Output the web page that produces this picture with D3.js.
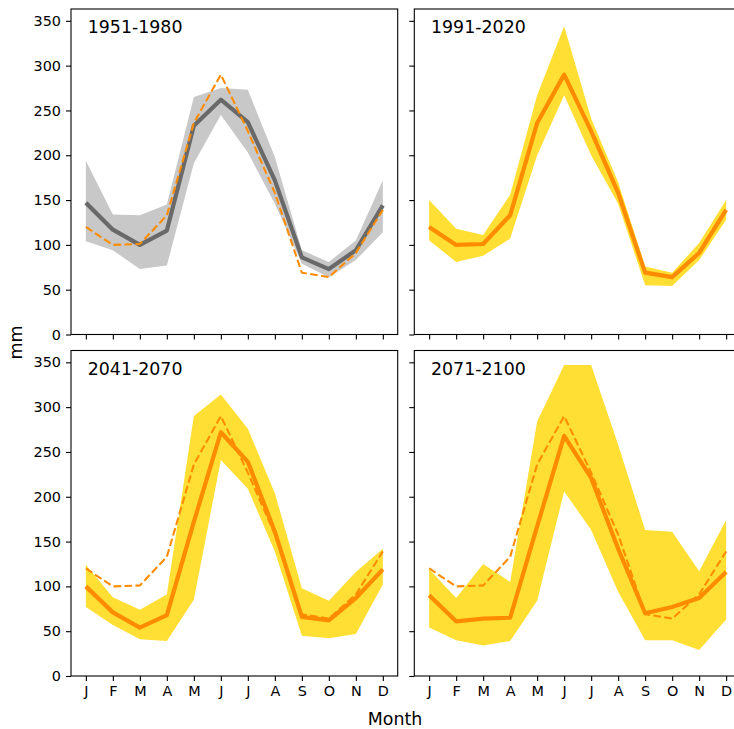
<!DOCTYPE html>
<html>
<head>
<meta charset="utf-8">
<script src="https://cdn.jsdelivr.net/npm/d3@7"></script>
<style>
  body { margin: 0; background: #fff; }
  svg { display: block; font-family: "DejaVu Sans", sans-serif; }
</style>
</head>
<body>
<div id="chart"></div>
<script>
// months on the x axis
const months = ["J", "F", "M", "A", "M", "J", "J", "A", "S", "O", "N", "D"];
const periods = ["1951-1980", "1991-2020", "2041-2070", "2071-2100"];
const yTicks = [0, 50, 100, 150, 200, 250, 300, 350];

// 1951-1980 (gray)
const mean1951 = [147, 117, 100, 116, 233, 262, 237, 172, 86, 73, 94, 144];
const high1951 = [194, 134, 133, 145, 265, 275, 273, 198, 94, 81, 105, 172];
const low1951  = [104, 94, 73, 77, 191, 245, 203, 146, 79, 64, 83, 114];

// 1991-2020 (also the dashed reference line)
const mean1991 = [120, 100, 101, 133, 236, 290, 227, 158, 69, 64, 91, 139];
const high1991 = [150, 118, 111, 156, 267, 344, 241, 170, 76, 69, 102, 150];
const low1991  = [105, 81, 88, 107, 200, 267, 200, 146, 55, 54, 83, 128];

// 2041-2070
const mean2041 = [100, 71, 54, 68, 172, 272, 239, 161, 66, 62, 87, 119];
const high2041 = [124, 88, 74, 91, 290, 314, 276, 204, 98, 84, 116, 142];
const low2041  = [77, 57, 41, 39, 85, 241, 209, 139, 45, 42, 47, 102];

// 2071-2100
const mean2071 = [90, 61, 64, 65, 167, 268, 221, 142, 70, 77, 87, 116];
const high2071 = [119, 87, 125, 105, 284, 347, 347, 258, 163, 161, 117, 174];
const low2071  = [54, 40, 34, 39, 84, 206, 163, 94, 40, 40, 29, 63];

const W = 734, H = 729;
const pw = 326.7, ph = 325.5;

const panels = [
  {title: periods[0], mean: mean1951, low: low1951, high: high1951, x: 71, y: 9,
   band: "#c8c8c8", line: "#696969", left: true, bottom: false},
  {title: periods[1], mean: mean1991, low: low1991, high: high1991, x: 414.3, y: 9,
   band: "#ffdf33", line: "#ff8c00", left: false, bottom: false},
  {title: periods[2], mean: mean2041, low: low2041, high: high2041, x: 71, y: 350.5,
   band: "#ffdf33", line: "#ff8c00", left: true, bottom: true},
  {title: periods[3], mean: mean2071, low: low2071, high: high2071, x: 414.3, y: 350.5,
   band: "#ffdf33", line: "#ff8c00", left: false, bottom: true}
];

const svg = d3.select("#chart").append("svg")
  .attr("width", W)
  .attr("height", H);

const x = d3.scaleLinear().domain([-0.55, 11.55]).range([0, pw]);
const y = d3.scaleLinear().domain([0, 363.2]).range([ph, 0]);

const area = d3.area()
  .x((d, i) => x(i))
  .y0((d, i) => y(d[0]))
  .y1((d, i) => y(d[1]));

const line = d3.line()
  .x((d, i) => x(i))
  .y(d => y(d));

panels.forEach(p => {
  const g = svg.append("g").attr("transform", `translate(${p.x},${p.y})`);

  // band
  g.append("path")
    .datum(p.low.map((v, i) => [v, p.high[i]]))
    .attr("fill", p.band)
    .attr("d", area);

  // mean
  g.append("path")
    .datum(p.mean)
    .attr("fill", "none")
    .attr("stroke", p.line)
    .attr("stroke-width", 4.2)
    .attr("stroke-linejoin", "round")
    .attr("d", line);

  // dashed 1991-2020 reference
  g.append("path")
    .datum(mean1991)
    .attr("fill", "none")
    .attr("stroke", "#ff8c00")
    .attr("stroke-width", 2.1)
    .attr("stroke-dasharray", "7.7,3.3")
    .attr("d", line);

  // axes
  const ya = d3.axisLeft(y).tickValues(yTicks).tickSize(5).tickPadding(5);
  if (!p.left) ya.tickFormat("");
  const yg = g.append("g").call(ya);

  const xa = d3.axisBottom(x).tickValues(d3.range(12)).tickSize(5).tickPadding(5)
    .tickFormat(i => p.bottom ? months[i] : "");
  const xg = g.append("g").attr("transform", `translate(0,${ph})`).call(xa);

  [yg, xg].forEach(a => {
    a.select(".domain").remove();
    a.selectAll("line").attr("stroke", "#000").attr("stroke-width", 1.1);
    a.selectAll("text").attr("fill", "#000")
      .style("font-family", "DejaVu Sans").style("font-size", "14.4px");
  });

  // frame
  g.append("rect")
    .attr("width", pw).attr("height", ph)
    .attr("fill", "none")
    .attr("stroke", "#000")
    .attr("stroke-width", 1.1);

  g.append("text")
    .attr("x", 16.7).attr("y", 24)
    .style("font-size", "17.4px")
    .text(p.title);
});

svg.append("text")
  .attr("x", 395).attr("y", 724.5)
  .attr("text-anchor", "middle")
  .style("font-size", "17.4px")
  .text("Month");

svg.append("text")
  .attr("transform", "translate(21.5,342.5) rotate(-90)")
  .attr("text-anchor", "middle")
  .style("font-size", "17.4px")
  .text("mm");
</script>
</body>
</html>
